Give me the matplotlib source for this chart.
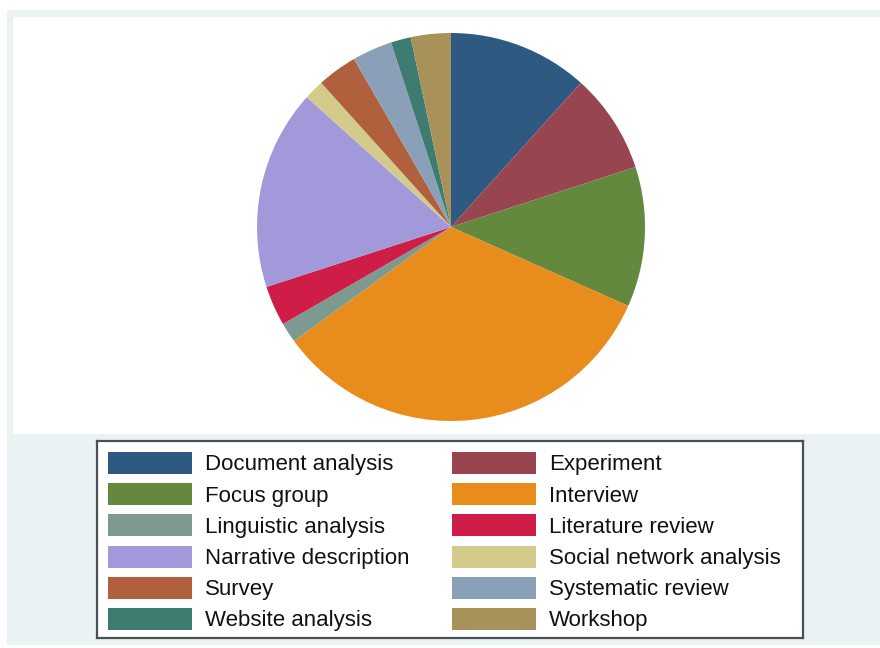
import matplotlib
matplotlib.use("Agg")
import matplotlib.pyplot as plt
from matplotlib.patches import Rectangle

# Study methods and number of studies using each
methods = [
    "Document analysis", "Experiment", "Focus group", "Interview",
    "Linguistic analysis", "Literature review", "Narrative description",
    "Social network analysis", "Survey", "Systematic review",
    "Website analysis", "Workshop",
]
counts = [7, 5, 7, 20, 1, 2, 10, 1, 2, 2, 1, 2]
colors = [
    "#2E5981", "#994550", "#65883F", "#E88C1C", "#7C9A8F", "#CE1D47",
    "#A199DA", "#D3CB8C", "#B0603C", "#8AA0B9", "#3E7C72", "#A8925A",
]

W, H = 880, 648
fig = plt.figure(figsize=(W / 100, H / 100), dpi=100)
fig.patch.set_facecolor("white")

def fx(x):
    return x / W

def fy(y):
    return 1 - y / H

# graph region and plot region backgrounds
fig.patches.append(Rectangle((fx(7), fy(645)), fx(880 - 7), (645 - 10) / H,
                             transform=fig.transFigure, facecolor="#EAF2F3",
                             edgecolor="none", zorder=-20))
fig.patches.append(Rectangle((fx(13), fy(434)), fx(880 - 13), (434 - 17) / H,
                             transform=fig.transFigure, facecolor="white",
                             edgecolor="none", zorder=-10))

# pie
cx, cy, r = 451, 227, 194
ax = fig.add_axes([fx(cx - r), fy(cy + r), 2 * r / W, 2 * r / H])
ax.pie(counts, colors=colors, startangle=90, counterclock=False,
       wedgeprops=dict(linewidth=0), radius=1.0)
ax.set_xlim(-1, 1)
ax.set_ylim(-1, 1)
ax.set_aspect("equal")
ax.axis("off")

# legend box
lx0, ly0, lx1, ly1 = 97, 441, 803, 638
lax = fig.add_axes([fx(lx0), fy(ly1), (lx1 - lx0) / W, (ly1 - ly0) / H])
lax.set_xlim(lx0, lx1)
lax.set_ylim(ly1, ly0)
lax.set_xticks([])
lax.set_yticks([])
lax.set_facecolor("white")
for s in lax.spines.values():
    s.set_edgecolor("#4A4F55")
    s.set_linewidth(1.6)

row_y = [463, 494.2, 525.4, 556.6, 587.8, 619]
col_x = [(108, 192, 205), (452, 536, 549)]
for i, (name, col) in enumerate(zip(methods, colors)):
    row, c = divmod(i, 2)
    sx0, sx1, tx = col_x[c]
    yc = row_y[row]
    lax.add_patch(Rectangle((sx0, yc - 11), sx1 - sx0, 22,
                            facecolor=col, edgecolor="none"))
    lax.text(tx, yc + 2, name, va="center", ha="left",
             fontsize=16, family="Liberation Sans", color="#111111")

fig.savefig("out.png", dpi=100, facecolor=fig.get_facecolor())
